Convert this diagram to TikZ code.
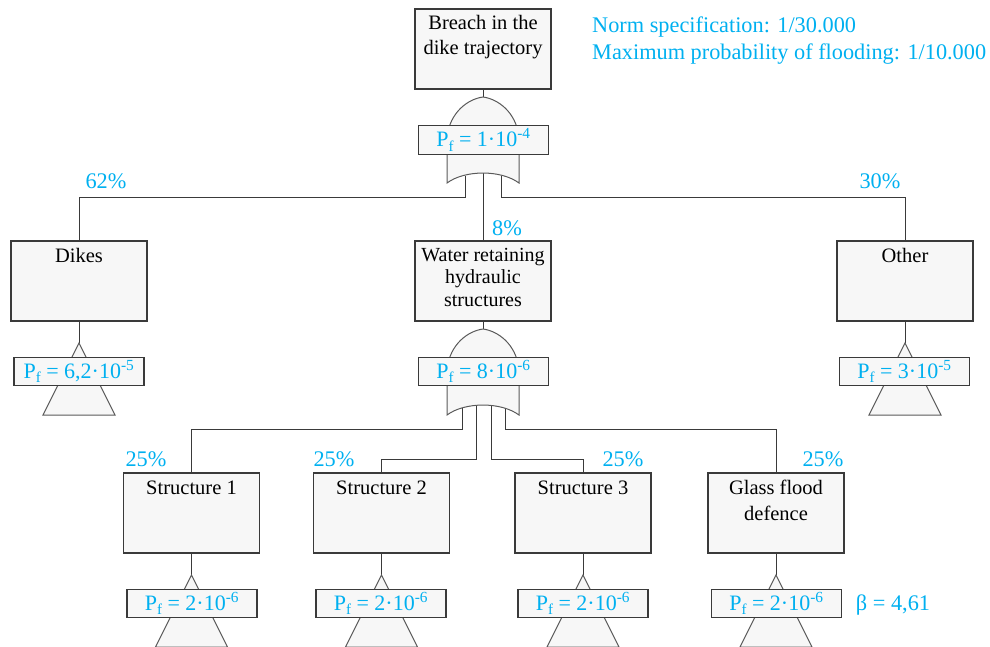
\documentclass[tikz,border=0pt]{standalone}
\usepackage{fontspec}
\setmainfont{Liberation Serif}
\definecolor{accent}{HTML}{00B0F0}
\definecolor{boxfill}{HTML}{F7F7F7}
\definecolor{linec}{HTML}{3A3A3A}
\definecolor{gatec}{HTML}{5A5A5A}

% probability of failure, e.g. \pf{1}{-4}
\newcommand\pf[2]{P\raisebox{-0.22em}{\fontsize{15}{15}\selectfont f} = #1·10\textsuperscript{#2}}

\begin{document}
\begin{tikzpicture}[x=1pt,y=-1pt,
  conn/.style={draw=linec, line width=1pt},
  box/.style={draw=linec, fill=boxfill, line width=1.1pt, minimum width=136pt,
    minimum height=80pt, inner sep=0pt},
  pfbox/.style={draw=linec, fill=boxfill, line width=1.1pt, minimum width=130pt,
    minimum height=28.5pt, inner sep=0pt},
  pftext/.style={text=accent, inner sep=0pt, anchor=base, font=\fontsize{22}{26}\selectfont},
  boxtext/.style={inner sep=0pt, anchor=base, align=center, font=\fontsize{20.5}{25}\selectfont},
  note/.style={text=accent, inner sep=0pt, font=\fontsize{22.3}{27}\selectfont},
  gate/.style={draw=gatec, fill=boxfill, line width=1pt},
  orgate/.pic={
    \path[gate] (0,0) .. controls (-15,2) and (-33,15) .. (-36,40) -- (-36,86)
      .. controls (-18,72.7) and (18,72.7) .. (36,86) -- (36,40)
      .. controls (33,15) and (15,2) .. cycle;
  },
  transfer/.pic={
    \path[gate] (0,0) -- (-36,72) -- (36,72) -- cycle;
  },
]
\useasboundingbox (0,0) rectangle (990,646);

% ---------- boxes ----------
\node[box] (breach) at (483,49) {};
\node[box] (dikes)  at (79,281) {};
\node[box] (water)  at (483,281) {};
\node[box] (other)  at (905,281) {};
\node[box] (s1) at (191.5,513) {};
\node[box] (s2) at (381.5,513) {};
\node[box] (s3) at (583,513) {};
\node[box] (glass) at (776,513) {};

% ---------- gate and transfer positions ----------
\coordinate (g1) at (483,97);
\coordinate (g2) at (483,329);
\coordinate (t1) at (79,343);
\coordinate (t2) at (905,343);
\coordinate (t3) at (191.5,575);
\coordinate (t4) at (381.5,575);
\coordinate (t5) at (583,575);
\coordinate (t6) at (776,575);

% outputs at the bottom of the gates
\coordinate (g1a) at (465,175.5);
\coordinate (g1b) at (483,173);
\coordinate (g1c) at (501,175.5);
\coordinate (g2a) at (462,408);
\coordinate (g2b) at (476,405.5);
\coordinate (g2c) at (491,405.5);
\coordinate (g2d) at (505,408);

% ---------- connectors ----------
\draw[conn] (breach.south) -- (g1);
\draw[conn] (g1a) -- (g1a |- 0,197) -| (dikes.north);
\draw[conn] (g1b) -- (water.north);
\draw[conn] (g1c) -- (g1c |- 0,197) -| (other.north);
\draw[conn] (water.south) -- (g2);
\draw[conn] (g2a) -- (g2a |- 0,429) -| (s1.north);
\draw[conn] (g2b) -- (g2b |- 0,459) -| (s2.north);
\draw[conn] (g2c) -- (g2c |- 0,459) -| (s3.north);
\draw[conn] (g2d) -- (g2d |- 0,429) -| (glass.north);
\foreach \b/\t in {dikes/t1, other/t2, s1/t3, s2/t4, s3/t5, glass/t6}
  \draw[conn] (\b.south) -- (\t);

% ---------- gates ----------
\pic at (g1) {orgate};
\pic at (g2) {orgate};
\foreach \t in {t1,t2,t3,t4,t5,t6}
  \pic at (\t) {transfer};

% ---------- probability boxes ----------
\node[pfbox] (pf0) at (483.5,140) {};
\node[pfbox] (pf1) at (79,371.5) {};
\node[pfbox] (pf2) at (483.5,371.5) {};
\node[pfbox] (pf3) at (904.5,371.5) {};
\node[pfbox] (pf4) at (192,603.5) {};
\node[pfbox] (pf5) at (381,603.5) {};
\node[pfbox] (pf6) at (583,603.5) {};
\node[pfbox] (pf7) at (776.5,603.5) {};

\node[pftext] at ([yshift=-6.5pt]pf0.center) {\pf{1}{-4}};
\node[pftext] at ([yshift=-6.5pt]pf1.center) {\pf{6,2}{-5}};
\node[pftext] at ([yshift=-6.5pt]pf2.center) {\pf{8}{-6}};
\node[pftext] at ([yshift=-6.5pt]pf3.center) {\pf{3}{-5}};
\foreach \p in {pf4,pf5,pf6,pf7}
  \node[pftext] at ([yshift=-6.5pt]\p.center) {\pf{2}{-6}};

% ---------- box texts (base = baseline of the last line) ----------
\node[boxtext] at ([yshift=-46pt]breach.north) {Breach in the\\dike trajectory};
\node[boxtext] at ([yshift=-22pt]dikes.north) {Dikes};
\node[boxtext] at ([yshift=-22pt]other.north) {Other};
\node[boxtext, font=\fontsize{20}{22.5}\selectfont] at ([yshift=-66pt]water.north)
  {Water retaining\\hydraulic\\structures};
\node[boxtext] at ([yshift=-22pt]s1.north) {Structure 1};
\node[boxtext] at ([yshift=-22pt]s2.north) {Structure 2};
\node[boxtext] at ([yshift=-22pt]s3.north) {Structure 3};
\node[boxtext, font=\fontsize{20.5}{26}\selectfont] at ([yshift=-48pt]glass.north)
  {Glass flood\\defence};

% ---------- shares and notes ----------
\node[note, anchor=base] (p62) at (106,188) {62\%};
\node[note, anchor=base] (p30) at (880,188) {30\%};
\node[note, anchor=base] (p8)  at (507,235) {8\%};
\node[note, anchor=base] (q1) at (146,466) {25\%};
\node[note, anchor=base] (q2) at (334,466) {25\%};
\node[note, anchor=base] (q3) at (623,466) {25\%};
\node[note, anchor=base] (q4) at (823,466) {25\%};
\node[note, anchor=base] (beta) at (893,610) {β = 4,61};
\node[note, anchor=base west] (norm) at (592,32) {Norm specification: 1/30.000};
\node[note, anchor=base west] (maxp) at (592,59) {Maximum probability of flooding: 1/10.000};
\end{tikzpicture}
\end{document}
